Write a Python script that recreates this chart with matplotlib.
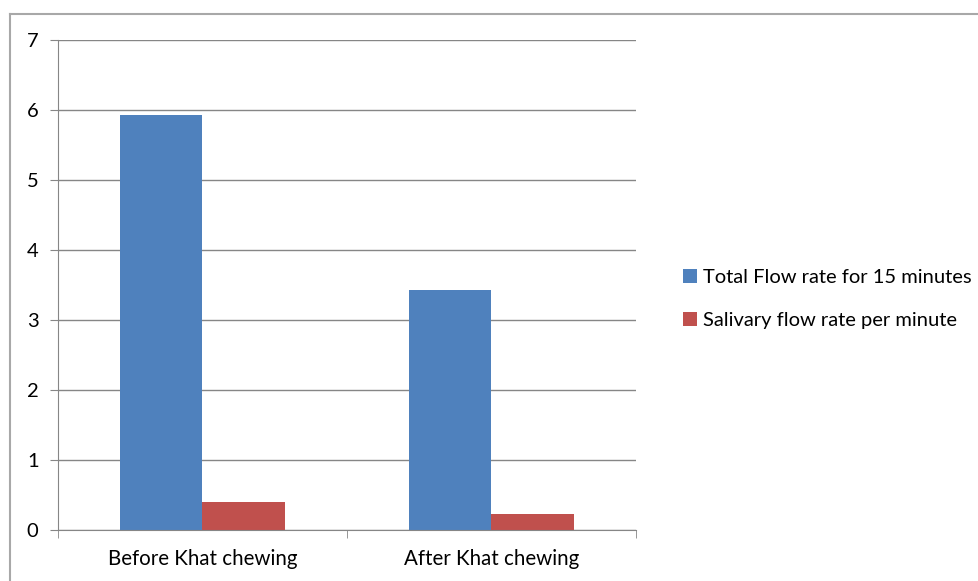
import numpy as np
import matplotlib.pyplot as plt
from matplotlib.lines import Line2D

categories = ['Before Khat chewing', 'After Khat chewing']
total_flow = [5.93, 3.43]
salivary_flow = [0.40, 0.23]
series_names = ['Total Flow rate for 15 minutes', 'Salivary flow rate per minute']

plt.rcParams['font.family'] = ['Lato', 'DejaVu Sans']

fig = plt.figure(figsize=(9.79, 5.81), dpi=100)
ax = fig.add_axes([58 / 979, 51 / 581, 578 / 979, 490 / 581])

x = np.arange(len(categories))
w = 0.285
ax.bar(x - w / 2, total_flow, w, color='#4f81bd', label=series_names[0])
ax.bar(x + w / 2, salivary_flow, w, color='#c0504d', label=series_names[1])

ax.set_xlim(-0.5, 1.5)
ax.set_ylim(0, 7)
ax.set_yticks(range(8))
ax.set_xticks(x)
ax.set_xticklabels(categories)
ax.set_xticks([-0.5, 0.5, 1.5], minor=True)
ax.tick_params(axis='x', which='major', length=0, labelsize=14.8, pad=14)
ax.tick_params(axis='x', which='minor', length=6, color='#868686', direction='out')
ax.tick_params(axis='y', length=6, color='#868686', labelsize=14.5, pad=8)

ax.grid(axis='y', color='#868686', linewidth=1)
ax.set_axisbelow(True)
for s in ['top', 'right']:
    ax.spines[s].set_visible(False)
for s in ['left', 'bottom']:
    ax.spines[s].set_color('#868686')

fig.legend(loc='center left', bbox_to_anchor=(665 / 979, 1 - 299 / 581),
           frameon=False, fontsize=14.5, handlelength=0.7, handleheight=0.7,
           handletextpad=0.3, labelspacing=1.3)

# outer frame: only top and left edges are visible
y_top = 1 - 14 / 581
x_left = 10 / 979
fig.add_artist(Line2D([x_left, 1], [y_top, y_top], transform=fig.transFigure,
                      color='#a8a8a8', linewidth=1.5))
fig.add_artist(Line2D([x_left, x_left], [0, y_top], transform=fig.transFigure,
                      color='#a8a8a8', linewidth=1.5))

fig.savefig('out.png', dpi=100)
